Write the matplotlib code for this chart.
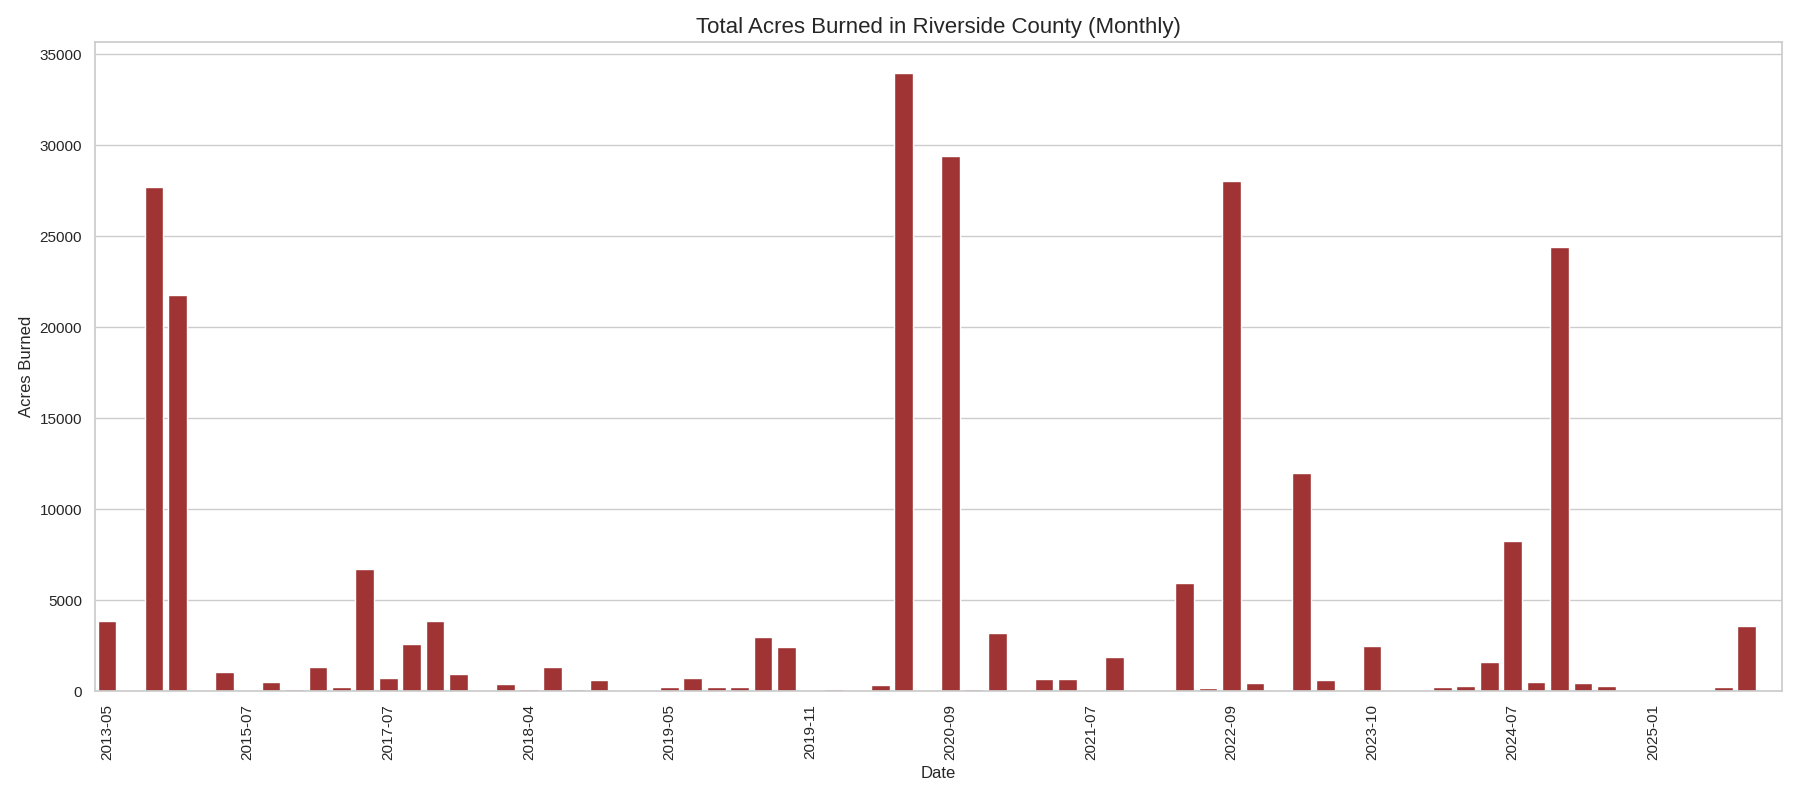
import matplotlib
matplotlib.use("Agg")
import matplotlib.pyplot as plt
import seaborn as sns

# =========================
# Data (months with recorded fires, acres burned)
# =========================
months = [
    "2013-05", "2013-06", "2013-07", "2013-08", "2013-09", "2014-05",
    "2015-07", "2015-08", "2016-04", "2016-06", "2016-07", "2017-06",
    "2017-07", "2017-08", "2017-09", "2017-10", "2017-12", "2018-02",
    "2018-04", "2018-06", "2018-07", "2018-08", "2018-09", "2019-03",
    "2019-05", "2019-06", "2019-07", "2019-08", "2019-09", "2019-10",
    "2019-11", "2020-01", "2020-04", "2020-06", "2020-07", "2020-08",
    "2020-09", "2020-10", "2020-12", "2021-01", "2021-04", "2021-05",
    "2021-07", "2021-09", "2021-11", "2022-04", "2022-06", "2022-08",
    "2022-09", "2022-10", "2022-11", "2023-05", "2023-06", "2023-08",
    "2023-10", "2023-11", "2024-01", "2024-03", "2024-04", "2024-06",
    "2024-07", "2024-08", "2024-09", "2024-10", "2024-11", "2024-12",
    "2025-01", "2025-02", "2025-03", "2025-04", "2025-05", "2025-06",
]

acres = [
    3850, 30, 27730, 21780, 5, 1080,
    5, 520, 110, 1320, 230, 6720,
    720, 2600, 3850, 960, 5, 380,
    110, 1320, 140, 620, 80, 5,
    210, 720, 220, 230, 2960, 2420,
    5, 140, 20, 330, 34000, 5,
    29440, 110, 3200, 5, 670, 670,
    5, 1880, 5, 5, 5950, 160,
    28060, 450, 80, 11980, 600, 5,
    2480, 20, 15, 240, 290, 1620,
    8250, 480, 24400, 440, 280, 5,
    15, 5, 15, 230, 3580, 5,
]

# =========================
# Plot
# =========================
sns.set_theme(style="whitegrid")
plt.rcParams["font.family"] = ["Liberation Sans", "DejaVu Sans"]

fig, ax = plt.subplots(figsize=(18, 8), dpi=100)

sns.barplot(x=months, y=acres, color="firebrick", ax=ax)

tick_pos = list(range(0, len(months), 6))
ax.set_xticks(tick_pos)
ax.set_xticklabels([months[i] for i in tick_pos], rotation=90)

ax.set_title("Total Acres Burned in Riverside County (Monthly)", fontsize=16)
ax.set_xlabel("Date")
ax.set_ylabel("Acres Burned")

fig.subplots_adjust(left=0.053, right=0.99, top=0.948, bottom=0.136)
fig.savefig("out.png", dpi=100)
plt.close()
